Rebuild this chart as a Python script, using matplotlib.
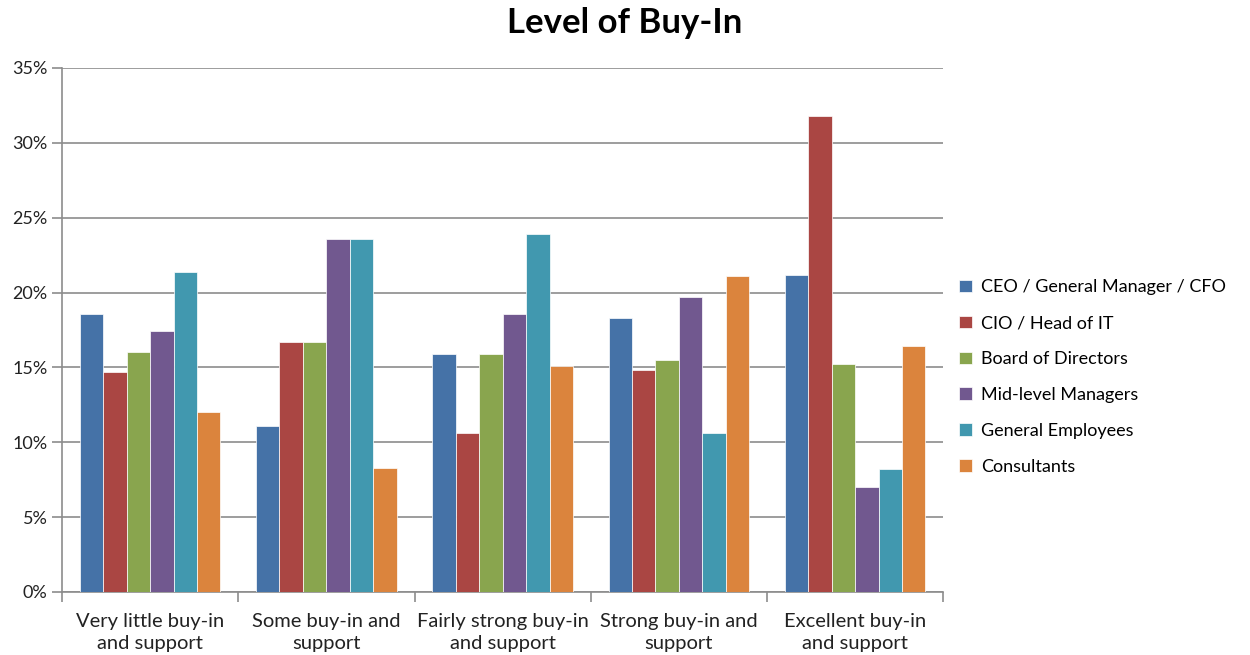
import numpy as np
import matplotlib
matplotlib.use("Agg")
import matplotlib.pyplot as plt
from matplotlib.ticker import FuncFormatter, FixedLocator

categories = ["Very little buy-in\nand support", "Some buy-in and\nsupport",
              "Fairly strong buy-in\nand support", "Strong buy-in and\nsupport",
              "Excellent buy-in\nand support"]
series = ["CEO / General Manager / CFO", "CIO / Head of IT", "Board of Directors",
          "Mid-level Managers", "General Employees", "Consultants"]

ceo = [18.6, 11.1, 15.9, 18.3, 21.2]
cio = [14.7, 16.7, 10.6, 14.8, 31.8]
board = [16.0, 16.7, 15.9, 15.5, 15.2]
mid = [17.4, 23.6, 18.6, 19.7, 7.0]
employees = [21.4, 23.6, 23.9, 10.6, 8.2]
consultants = [12.0, 8.3, 15.1, 21.1, 16.4]
values = [ceo, cio, board, mid, employees, consultants]

colors = ["#4572A7", "#AA4643", "#89A54E", "#71588F", "#4198AF", "#DB843D"]

plt.rcParams['font.family'] = ['Lato', 'DejaVu Sans']

fig = plt.figure(figsize=(12.5, 6.55), dpi=100)
ax = fig.add_axes([0.0496, 0.0962, 0.705, 0.8])

x = np.arange(len(categories))
w = 0.133
for i, (name, vals) in enumerate(zip(series, values)):
    ax.bar(x + (i - 2.5) * w, vals, w, color=colors[i], label=name,
           edgecolor='white', linewidth=0.5, zorder=3)

ax.set_xlim(-0.5, len(categories) - 0.5)
ax.set_ylim(0, 35)
ax.set_yticks(range(0, 36, 5))
ax.yaxis.set_major_formatter(FuncFormatter(lambda v, p: "%d%%" % v))
ax.grid(axis='y', color='#8c8c8c', linewidth=1.2, zorder=0)

# category labels centered, tick marks between categories
ax.set_xticks(x)
ax.set_xticklabels(categories, fontsize=14.5, color='#222222', linespacing=1.4)
ax.tick_params(axis='x', length=0, pad=15)
ax.xaxis.set_minor_locator(FixedLocator(np.arange(-0.5, len(categories), 1)))
ax.tick_params(axis='x', which='minor', length=7, color='#8c8c8c', width=1.2)
ax.tick_params(axis='y', labelsize=13, colors='#222222', length=7, width=1.2)
ax.tick_params(axis='y', color='#8c8c8c')

for s in ['top', 'right']:
    ax.spines[s].set_visible(False)
for s in ['left', 'bottom']:
    ax.spines[s].set_color('#8c8c8c')
    ax.spines[s].set_linewidth(1.2)

fig.text(0.5, 0.965, "Level of Buy-In", ha='center', va='center',
         fontsize=25, fontweight='bold', color='black')

ax.legend(loc='center left', bbox_to_anchor=(1.0, 0.41), frameon=False,
          fontsize=13, handlelength=0.7, handleheight=0.7, handletextpad=0.5,
          labelspacing=1.1, borderaxespad=0.5)

fig.savefig("out.png", dpi=100)
